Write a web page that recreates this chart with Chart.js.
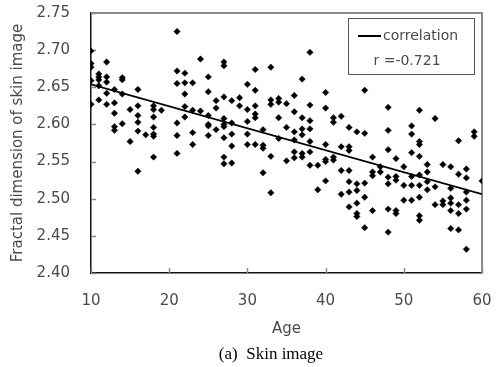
<!DOCTYPE html>
<html>
<head>
<meta charset="utf-8">
<script src="https://cdn.jsdelivr.net/npm/chart.js@4"></script>
<style>
  html, body { margin: 0; padding: 0; background: #fff; }
</style>
</head>
<body>
<canvas id="chart" width="498" height="367"></canvas>
<script>
// age of each subject and fractal dimension of the skin image
const ages = [
  10, 10, 10, 10, 10,
  11, 11, 11, 11, 11,
  12, 12, 12, 12, 12,
  13, 13, 13, 13, 13,
  14, 14, 14, 14,
  15, 15,
  16, 16, 16, 16, 16, 16,
  17,
  18, 18, 18, 18, 18, 18, 18,
  19,
  21, 21, 21, 21, 21, 21,
  22, 22, 22, 22, 22,
  23, 23, 23, 23,
  24, 24,
  25, 25, 25, 25, 25, 25,
  26, 26, 26,
  27, 27, 27, 27, 27, 27, 27, 27, 27,
  28, 28, 28, 28, 28,
  29, 29,
  30, 30, 30, 30, 30,
  31, 31, 31, 31, 31, 31,
  32, 32, 32, 32,
  33, 33, 33, 33, 33,
  34, 34, 34, 34,
  35, 35, 35,
  36, 36, 36, 36, 36, 36,
  37, 37, 37, 37, 37, 37,
  38, 38, 38, 38, 38, 38, 38,
  39, 39,
  40, 40, 40, 40, 40, 40,
  41, 41, 41, 41,
  42, 42, 42, 42,
  43, 43, 43, 43, 43, 43, 43,
  44, 44, 44, 44, 44, 44,
  45, 45, 45, 45, 45,
  46, 46, 46, 46,
  47, 47,
  48, 48, 48, 48, 48, 48, 48,
  49, 49, 49, 49, 49,
  50, 50, 50,
  51, 51, 51, 51, 51, 51,
  52, 52, 52, 52, 52, 52, 52, 52, 52,
  53, 53, 53, 53,
  54, 54, 54,
  55, 55, 55,
  56, 56, 56, 56, 56, 56,
  57, 57, 57, 57, 57,
  58, 58, 58, 58, 58, 58,
  59, 59,
  60
];
const fractal = [
  2.699, 2.682, 2.677, 2.659, 2.627,
  2.668, 2.664, 2.660, 2.652, 2.633,
  2.684, 2.664, 2.657, 2.642, 2.627,
  2.647, 2.629, 2.615, 2.597, 2.592,
  2.663, 2.660, 2.641, 2.601,
  2.620, 2.577,
  2.647, 2.625, 2.612, 2.603, 2.591, 2.537,
  2.586,
  2.625, 2.620, 2.610, 2.596, 2.587, 2.584, 2.556,
  2.619,
  2.725, 2.672, 2.655, 2.602, 2.585, 2.561,
  2.669, 2.656, 2.641, 2.624, 2.610,
  2.656, 2.619, 2.589, 2.573,
  2.688, 2.618,
  2.664, 2.644, 2.612, 2.600, 2.598, 2.585,
  2.632, 2.622, 2.593,
  2.684, 2.679, 2.637, 2.608, 2.600, 2.597, 2.582, 2.556, 2.547,
  2.632, 2.602, 2.587, 2.571, 2.548,
  2.636, 2.625,
  2.654, 2.620, 2.604, 2.587, 2.573,
  2.674, 2.646, 2.625, 2.614, 2.609, 2.573,
  2.593, 2.572, 2.568, 2.535,
  2.677, 2.633, 2.627, 2.557, 2.508,
  2.635, 2.630, 2.609, 2.581,
  2.628, 2.596, 2.551,
  2.639, 2.617, 2.590, 2.579, 2.563, 2.555,
  2.661, 2.609, 2.594, 2.586, 2.561, 2.556,
  2.697, 2.626, 2.605, 2.594, 2.577, 2.563, 2.545,
  2.545, 2.512,
  2.643, 2.622, 2.573, 2.553, 2.550, 2.524,
  2.609, 2.603, 2.556, 2.552,
  2.611, 2.570, 2.538, 2.506,
  2.596, 2.570, 2.565, 2.538, 2.523, 2.509, 2.489,
  2.590, 2.520, 2.511, 2.494, 2.480, 2.476,
  2.646, 2.588, 2.521, 2.502, 2.461,
  2.556, 2.536, 2.531, 2.484,
  2.543, 2.536,
  2.623, 2.592, 2.566, 2.529, 2.520, 2.486, 2.455,
  2.554, 2.530, 2.525, 2.484, 2.480,
  2.543, 2.518, 2.498,
  2.598, 2.587, 2.562, 2.530, 2.518, 2.498,
  2.619, 2.577, 2.573, 2.557, 2.532, 2.518, 2.502, 2.477, 2.471,
  2.546, 2.536, 2.523, 2.512,
  2.608, 2.516, 2.492,
  2.546, 2.497, 2.492,
  2.543, 2.514, 2.501, 2.494, 2.484, 2.460,
  2.578, 2.533, 2.492, 2.480, 2.458,
  2.540, 2.528, 2.509, 2.498, 2.486, 2.432,
  2.590, 2.584,
  2.524
];

// ends of the correlation line
const fitAges = [10, 60];
const fitValues = [2.654, 2.506];
const rText = 'r =-0.721';

const xTicks = [10, 20, 30, 40, 50, 60];
const yTicks = [2.40, 2.45, 2.50, 2.55, 2.60, 2.65, 2.70, 2.75];

const textFont = { family: 'DejaVu Sans', size: 15 };
const textColor = '#4a4a4a';

const points = ages.map((a, i) => ({ x: a, y: fractal[i] }));
const fitLine = fitAges.map((a, i) => ({ x: a, y: fitValues[i] }));

// gray frame on top/right plus inward tick marks
const framePlugin = {
  id: 'frame',
  beforeDatasetsDraw(chart) {
    const { ctx, chartArea: ca, scales } = chart;
    ctx.save();
    ctx.strokeStyle = '#8a8a8a';
    ctx.lineWidth = 2;
    ctx.beginPath();
    ctx.moveTo(ca.left, ca.top);
    ctx.lineTo(ca.right, ca.top);
    ctx.lineTo(ca.right, ca.bottom);
    ctx.stroke();
    ctx.lineWidth = 1.5;
    ctx.beginPath();
    yTicks.forEach(v => {
      const y = Math.round(scales.y.getPixelForValue(v)) + 0.5;
      ctx.moveTo(ca.left, y);
      ctx.lineTo(ca.left + 5, y);
    });
    xTicks.forEach(v => {
      const x = Math.round(scales.x.getPixelForValue(v)) + 0.5;
      ctx.moveTo(x, ca.bottom);
      ctx.lineTo(x, ca.bottom - 5);
    });
    ctx.stroke();
    ctx.restore();
  }
};

// boxed legend with the correlation coefficient, plus caption
const legendPlugin = {
  id: 'legendBox',
  afterDraw(chart) {
    const ctx = chart.ctx;
    ctx.save();
    ctx.strokeStyle = '#555';
    ctx.lineWidth = 1;
    ctx.fillStyle = '#fff';
    ctx.fillRect(348, 18, 126, 56);
    ctx.strokeRect(348.5, 18.5, 126, 56);
    ctx.strokeStyle = '#000';
    ctx.lineWidth = 2;
    ctx.beginPath();
    ctx.moveTo(358, 36);
    ctx.lineTo(381, 36);
    ctx.stroke();
    ctx.fillStyle = textColor;
    ctx.font = '14px "DejaVu Sans"';
    ctx.textBaseline = 'middle';
    ctx.textAlign = 'left';
    ctx.fillText(chart.data.datasets[0].label, 383, 36);
    ctx.textAlign = 'center';
    ctx.fillText(rText, 407, 61);
    ctx.fillStyle = '#000';
    ctx.font = '17px "Liberation Serif"';
    ctx.fillText('(a)  Skin image', 271, 355);
    ctx.restore();
  }
};

new Chart(document.getElementById('chart'), {
  type: 'scatter',
  data: {
    datasets: [
      {
        type: 'line',
        label: 'correlation',
        data: fitLine,
        borderColor: '#000',
        borderWidth: 1.8,
        pointRadius: 0,
        fill: false
      },
      {
        label: 'subjects',
        data: points,
        pointStyle: 'rectRot',
        pointRadius: 3.2,
        borderWidth: 0.5,
        backgroundColor: '#000',
        borderColor: '#000'
      }
    ]
  },
  options: {
    responsive: false,
    animation: false,
    layout: { padding: { top: 13, right: 16, left: 0, bottom: 0 } },
    plugins: {
      legend: { display: false },
      tooltip: { enabled: false }
    },
    scales: {
      x: {
        type: 'linear',
        min: 10,
        max: 60,
        afterFit: s => { s.height = 94; s.paddingLeft = 0; s.paddingRight = 0; },
        afterBuildTicks: s => { s.ticks = xTicks.map(v => ({ value: v })); },
        grid: { display: false, drawTicks: false },
        border: { display: true, color: '#111', width: 1.5 },
        ticks: { padding: 19, color: textColor, font: textFont },
        title: { display: true, text: 'Age', color: textColor, font: textFont, padding: { top: 0, bottom: 29 } }
      },
      y: {
        min: 2.40,
        max: 2.75,
        afterFit: s => { s.width = 91; s.paddingTop = 0; s.paddingBottom = 0; },
        afterBuildTicks: s => { s.ticks = yTicks.map(v => ({ value: v })); },
        grid: { display: false, drawTicks: false },
        border: { display: true, color: '#111', width: 1.5 },
        ticks: { padding: 21, color: textColor, font: textFont, callback: v => v.toFixed(2) },
        title: { display: true, text: 'Fractal dimension of skin image', color: textColor, font: textFont, padding: { top: 9, bottom: 0 } }
      }
    }
  },
  plugins: [framePlugin, legendPlugin]
});
</script>
</body>
</html>
